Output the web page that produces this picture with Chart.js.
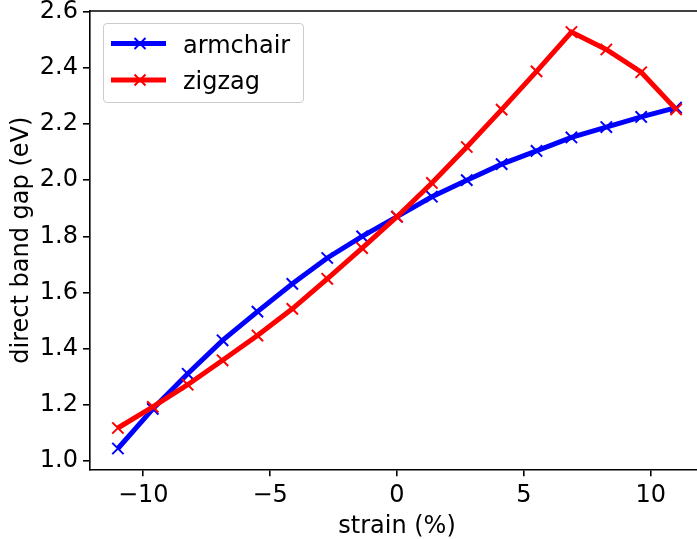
<!DOCTYPE html>
<html>
<head>
<meta charset="utf-8">
<script src="https://cdn.jsdelivr.net/npm/chart.js@4/dist/chart.umd.min.js"></script>
<style>
  html, body { margin: 0; padding: 0; background: #fff; overflow: hidden; }
  #wrap { position: relative; width: 697px; height: 539px; overflow: hidden; }
  #myChart { position: absolute; left: 0; top: 0; }
  .legend {
    position: absolute; left: 103px; top: 23px; width: 199px; height: 78px;
    border: 1px solid #cccccc; border-radius: 4px; background: rgba(255,255,255,0.8);
    font-family: 'DejaVu Sans', sans-serif; font-size: 24px; color: #000;
  }
  .legend svg { position: absolute; left: 0; top: 0; }
  .legend span { position: absolute; left: 79px; line-height: 24px; white-space: nowrap; }
</style>
</head>
<body>
<div id="wrap">
  <canvas id="myChart" width="714" height="539"></canvas>
  <div class="legend">
    <svg width="199" height="78">
      <line x1="7" y1="19.5" x2="62" y2="19.5" stroke="#0000ff" stroke-width="5"/>
      <path d="M30.5 14 L41.5 25 M30.5 25 L41.5 14" stroke="#0000ff" stroke-width="2"/>
      <line x1="7" y1="56" x2="62" y2="56" stroke="#ff0000" stroke-width="5"/>
      <path d="M30.5 50.5 L41.5 61.5 M30.5 61.5 L41.5 50.5" stroke="#ff0000" stroke-width="2"/>
    </svg>
    <span style="top: 9px;">armchair</span>
    <span style="top: 45px;">zigzag</span>
  </div>
</div>
<script>
/* globals Chart:false */
(() => {
  'use strict'

  // strain (%) sample points
  const strain = [-11, -9.625, -8.25, -6.875, -5.5, -4.125, -2.75, -1.375, 0,
    1.375, 2.75, 4.125, 5.5, 6.875, 8.25, 9.625, 11]
  // direct band gap (eV)
  const armchair = [1.045, 1.186, 1.311, 1.430, 1.532, 1.631, 1.723, 1.800, 1.870,
    1.941, 2.000, 2.057, 2.104, 2.152, 2.189, 2.225, 2.258]
  const zigzag = [1.118, 1.193, 1.272, 1.359, 1.447, 1.542, 1.649, 1.758, 1.870,
    1.990, 2.118, 2.251, 2.387, 2.527, 2.465, 2.384, 2.252]

  const xTicks = [-10, -5, 0, 5, 10]
  const yTicks = [1.0, 1.2, 1.4, 1.6, 1.8, 2.0, 2.2, 2.4, 2.6]

  const font = { family: 'DejaVu Sans', size: 24 }
  const toPoints = ys => strain.map((x, i) => ({ x, y: ys[i] }))

  // top spine, like matplotlib
  const topSpine = {
    id: 'topSpine',
    afterDraw (chart) {
      const { ctx, chartArea } = chart
      ctx.save()
      ctx.strokeStyle = '#000'
      ctx.lineWidth = 1.6
      ctx.beginPath()
      ctx.moveTo(chartArea.left, chartArea.top)
      ctx.lineTo(chartArea.right + 2, chartArea.top)
      ctx.stroke()
      ctx.restore()
    }
  }

  const series = (label, ys, color, order) => ({
    label,
    data: toPoints(ys),
    order,
    borderColor: color,
    backgroundColor: color,
    borderWidth: 5,
    tension: 0,
    pointStyle: 'crossRot',
    pointRadius: 8,
    pointHoverRadius: 8,
    pointBorderWidth: 2,
    pointBorderColor: color
  })

  const ctx = document.getElementById('myChart')
  // eslint-disable-next-line no-unused-vars
  const myChart = new Chart(ctx, {
    type: 'line',
    data: {
      datasets: [
        series('armchair', armchair, '#0000ff', 2),
        series('zigzag', zigzag, '#ff0000', 1)
      ]
    },
    options: {
      responsive: false,
      animation: false,
      layout: { padding: { top: 11, right: 0, left: 0, bottom: 0 } },
      scales: {
        x: {
          type: 'linear',
          min: -12.1,
          max: 12.1,
          afterBuildTicks: s => { s.ticks = xTicks.map(v => ({ value: v })) },
          afterFit: s => {
            s.height = 69.7
            s.paddingLeft = 0
            s.paddingRight = 0
          },
          grid: { drawOnChartArea: false, tickLength: 7, color: '#000', lineWidth: 1.6 },
          border: { color: '#000', width: 1.6 },
          ticks: {
            color: '#000',
            font,
            padding: 5,
            maxRotation: 0,
            callback: v => String(v).replace('-', '\u2212')
          },
          title: {
            display: true,
            text: 'strain (%)',
            color: '#000',
            font: { family: 'DejaVu Sans', size: 24, lineHeight: 1 },
            padding: { top: 0, bottom: 0 }
          }
        },
        y: {
          min: 0.971,
          max: 2.602,
          afterBuildTicks: s => { s.ticks = yTicks.map(v => ({ value: v })) },
          afterFit: s => {
            s.width = 90
            s.paddingTop = 0
            s.paddingBottom = 0
          },
          grid: { drawOnChartArea: false, tickLength: 7, color: '#000', lineWidth: 1.6 },
          border: { color: '#000', width: 1.6 },
          ticks: {
            color: '#000',
            font,
            padding: 5,
            callback: v => v.toFixed(1)
          },
          title: {
            display: true,
            text: 'direct band gap (eV)',
            color: '#000',
            font: { family: 'DejaVu Sans', size: 24, lineHeight: 1 },
            padding: { top: 9.5, bottom: 0 }
          }
        }
      },
      plugins: {
        legend: { display: false },
        tooltip: { enabled: false }
      }
    },
    plugins: [topSpine]
  })
})()
</script>
</body>
</html>
